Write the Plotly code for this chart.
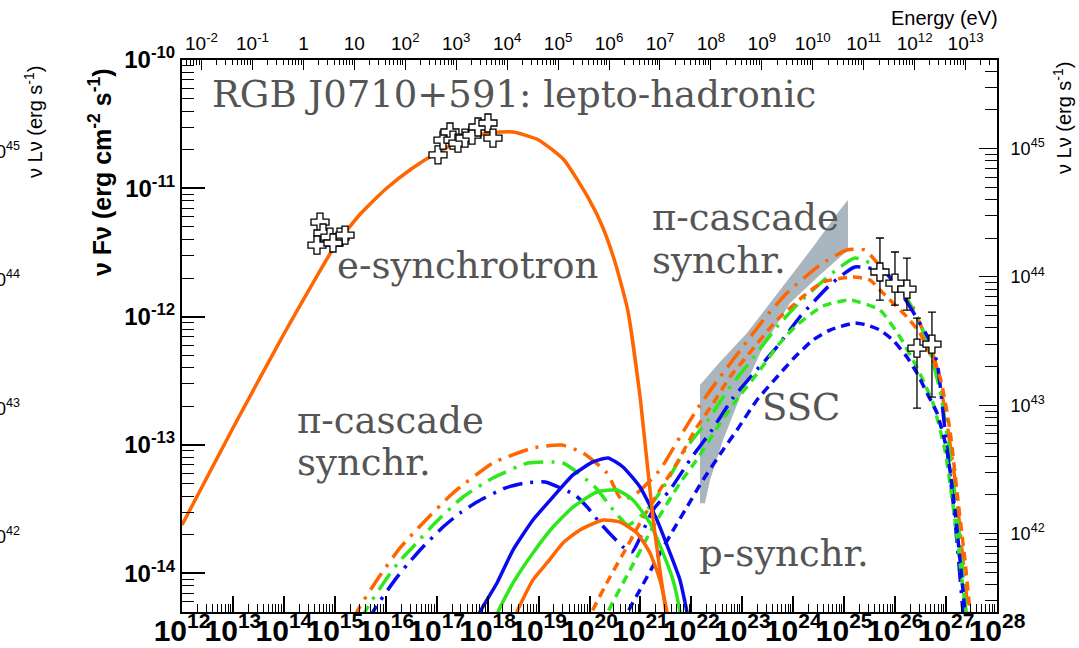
import numpy as np
import plotly.graph_objects as go

# ---------------- constants / axes ----------------
LOG_H_EV = np.log10(4.135667696e-15)   # Planck constant in eV s (top energy axis)
LUM_OFFSET = 55.69                      # log10(4 pi d_L^2) for right nuLnu axis

x_range_log = [12.0, 28.0]
y_range_log = [float(np.log10(5e-15)), -10.0]

x_tick_exp = list(range(12, 29))
y_tick_exp = [-14, -13, -12, -11, -10]
e_tick_exp = list(range(-2, 14))
l_tick_exp = [42, 43, 44, 45]

# ---------------- data (log10 nu [Hz], log10 nuFnu [erg cm-2 s-1]) ----------------
# e-synchrotron
esyn_lx = [12.0, 13.0, 14.0, 14.572, 15.0, 15.5, 16.0, 16.5, 17.0, 17.5, 18.0, 18.5, 19.0, 19.5,
           20.0, 20.25, 20.5, 20.75, 21.0, 21.25, 21.5, 21.55]
esyn_ly = [-13.623, -12.867, -12.135, -11.737, -11.449, -11.200, -11.005, -10.849, -10.725, -10.627,
           -10.569, -10.561, -10.623, -10.779, -11.091, -11.293, -11.574, -11.948, -12.649, -13.584,
           -14.301, -14.40]

# Fermi bow-tie
band_lx = [22.169, 22.561, 23.091, 23.739, 24.387, 24.917, 25.074, 25.074, 24.524, 23.936,
           23.406, 22.954, 22.620, 22.365, 22.267, 22.169]
band_ly = [-12.533, -12.354, -12.128, -11.793, -11.458, -11.169, -11.091, -11.481, -11.676, -11.894,
           -12.237, -12.627, -12.962, -13.274, -13.453, -13.453]

# optical / X-ray data points
lowdata_lx = [14.709, 14.768, 14.650, 14.905, 15.102, 15.200, 14.964,
              17.026, 17.124, 17.261, 17.320, 17.418, 17.556, 17.693, 17.811, 18.007, 18.105]
lowdata_ly = [-11.263, -11.348, -11.442, -11.380, -11.380, -11.364, -11.426,
              -10.740, -10.624, -10.561, -10.624, -10.647, -10.608, -10.585, -10.522, -10.491, -10.608]

# VHE gamma-ray data points with error bars
gam_lx = [25.702, 25.997, 26.232, 26.429, 26.723]
gam_ly = [-11.652, -11.738, -11.785, -12.245, -12.214]
gam_hi = [-11.387, -11.496, -11.543, -12.011, -11.964]
gam_lo = [-11.871, -11.910, -11.949, -12.712, -12.627]

# proton synchrotron (solid)
psyn_blue_lx = [17.78, 17.850, 18.184, 18.498, 18.890, 19.283, 19.676, 20.068, 20.363, 20.657, 20.991,
                21.325, 21.580, 21.776, 21.914, 21.96]
psyn_blue_ly = [-14.40, -14.301, -14.075, -13.818, -13.584, -13.405, -13.233, -13.132, -13.101, -13.171, -13.327,
                -13.584, -13.841, -14.051, -14.301, -14.40]
psyn_green_lx = [18.15, 18.203, 18.498, 18.890, 19.283, 19.676, 20.147, 20.539, 20.854, 21.187, 21.442,
                 21.639, 21.776, 21.81]
psyn_green_ly = [-14.40, -14.301, -14.075, -13.841, -13.639, -13.483, -13.366, -13.350, -13.428, -13.607, -13.841,
                 -14.051, -14.301, -14.40]
psyn_orange_lx = [18.52, 18.576, 18.890, 19.165, 19.479, 19.813, 20.265, 20.598, 20.932, 21.187, 21.383,
                  21.521, 21.56]
psyn_orange_ly = [-14.40, -14.301, -14.051, -13.919, -13.763, -13.662, -13.584, -13.600, -13.685, -13.841, -14.051,
                  -14.301, -14.40]

# pi-cascade synchrotron (dash-dot)
casc_orange_lx = [15.37, 15.435, 15.828, 16.280, 16.731, 17.320, 18.105, 18.890, 19.460, 19.872, 20.343, 20.637,
                  20.932, 21.383, 21.776, 22.129, 22.561, 22.993, 23.444, 23.876, 24.524, 25.054, 25.408,
                  25.702, 26.232, 26.585, 26.782, 26.978, 27.175, 27.312, 27.430, 27.45]
casc_orange_ly = [-14.40, -14.301, -14.051, -13.802, -13.607, -13.374, -13.140, -13.023, -13.000, -13.062, -13.218,
                  -13.428, -13.374, -13.194, -12.937, -12.711, -12.470, -12.244, -12.010, -11.815, -11.597, -11.480,
                  -11.480, -11.605, -11.831, -12.143, -12.337, -12.727, -13.272, -13.818, -14.301, -14.40]
casc_green_lx = [15.53, 15.592, 16.024, 16.240, 16.515, 16.967, 17.516, 18.105, 18.792, 19.479, 20.107, 20.500,
                 20.755, 21.128, 21.442, 21.913, 22.326, 22.757, 23.150, 23.680, 24.073, 24.720, 25.211,
                 25.702, 26.193, 26.585, 26.880, 27.116, 27.273, 27.391, 27.41]
casc_green_ly = [-14.40, -14.301, -14.036, -13.919, -13.802, -13.607, -13.405, -13.257, -13.140, -13.140, -13.327,
                 -13.522, -13.623, -13.506, -13.335, -13.015, -12.805, -12.548, -12.353, -12.080, -11.909, -11.675,
                 -11.543, -11.621, -11.831, -12.143, -12.571, -13.194, -13.740, -14.301, -14.40]
casc_blue_lx = [15.69, 15.750, 16.181, 16.417, 16.711, 17.124, 17.457, 17.791, 18.341, 18.733, 19.126, 19.715,
                19.970, 20.206, 20.657, 20.834, 21.246, 21.580, 22.012, 22.405, 22.817, 23.249, 23.680,
                24.132, 24.720, 25.211, 25.800, 26.232, 26.723, 26.841, 26.978, 27.175, 27.332, 27.35]
casc_blue_ly = [-14.40, -14.301, -14.051, -13.934, -13.802, -13.639, -13.530, -13.444, -13.335, -13.296, -13.288,
                -13.389, -13.490, -13.607, -13.794, -13.833, -13.506, -13.350, -13.093, -12.883, -12.633, -12.431,
                -12.236, -12.002, -11.753, -11.613, -11.652, -11.886, -12.221, -12.400, -12.883, -13.584,
                -14.301, -14.40]

# SSC (short dash)
ssc_orange_lx = [19.99, 20.049, 20.402, 20.736, 20.991, 21.383, 21.717, 22.071, 22.405, 22.757, 23.111, 23.680,
                 24.230, 24.583, 25.172, 25.506, 25.702, 26.232, 26.487, 26.880, 27.076, 27.233, 27.371,
                 27.469, 27.49]
ssc_orange_ly = [-14.40, -14.301, -14.028, -13.794, -13.607, -13.350, -13.140, -12.883, -12.688, -12.470, -12.298,
                 -12.026, -11.831, -11.730, -11.691, -11.714, -11.792, -12.002, -12.127, -12.470, -12.883,
                 -13.428, -13.896, -14.301, -14.40]
ssc_green_lx = [20.30, 20.363, 20.795, 21.246, 21.776, 22.129, 22.502, 22.855, 23.346, 23.739, 24.073, 24.583,
                25.113, 25.702, 26.095, 26.350, 26.546, 26.742, 26.978, 27.175, 27.312, 27.391, 27.41]
ssc_green_ly = [-14.40, -14.301, -13.974, -13.639, -13.296, -13.101, -12.867, -12.665, -12.415, -12.205, -12.065,
                -11.917, -11.870, -11.948, -12.158, -12.337, -12.493, -12.672, -13.039, -13.584, -14.051,
                -14.301, -14.40]
ssc_blue_lx = [20.70, 20.755, 20.991, 21.344, 21.678, 21.913, 22.228, 22.620, 22.895, 23.288, 23.680, 24.034,
               24.387, 24.720, 25.211, 25.447, 25.702, 25.957, 26.232, 26.429, 26.625, 26.821, 27.017,
               27.175, 27.312, 27.371, 27.39]
ssc_blue_ly = [-14.40, -14.301, -14.129, -13.872, -13.639, -13.483, -13.272, -13.039, -12.883, -12.649, -12.470,
               -12.314, -12.182, -12.104, -12.049, -12.065, -12.104, -12.182, -12.314, -12.439, -12.594,
               -12.750, -13.039, -13.506, -14.051, -14.301, -14.40]

# ---------------- styles ----------------
ORANGE = "#ff6600"
GREEN = "#2ee81c"
BLUE = "#0a0af0"
BAND = "#a9b5bf"
TEXTGRAY = "#555555"
DASHDOT = "20px,8px,3px,8px"
SHORTDASH = "9px,6px"
LW = 3.5


def pw(v):
    return (10.0 ** np.asarray(v)).tolist()


fig = go.Figure()

fig.add_trace(go.Scatter(x=pw(band_lx), y=pw(band_ly), mode="lines", fill="toself",
                         fillcolor=BAND, line=dict(width=0, color=BAND), hoverinfo="skip"))

curves = [
    (casc_orange_lx, casc_orange_ly, ORANGE, DASHDOT),
    (casc_green_lx, casc_green_ly, GREEN, DASHDOT),
    (casc_blue_lx, casc_blue_ly, BLUE, DASHDOT),
    (ssc_orange_lx, ssc_orange_ly, ORANGE, SHORTDASH),
    (ssc_green_lx, ssc_green_ly, GREEN, SHORTDASH),
    (ssc_blue_lx, ssc_blue_ly, BLUE, SHORTDASH),
    (psyn_orange_lx, psyn_orange_ly, ORANGE, "solid"),
    (psyn_green_lx, psyn_green_ly, GREEN, "solid"),
    (psyn_blue_lx, psyn_blue_ly, BLUE, "solid"),
    (esyn_lx, esyn_ly, ORANGE, "solid"),
]
for lx, ly, col, dash in curves:
    fig.add_trace(go.Scatter(x=pw(lx), y=pw(ly), mode="lines",
                             line=dict(color=col, width=LW, dash=dash, shape="spline", smoothing=0.5),
                             hoverinfo="skip"))

marker_style = dict(symbol="cross", size=15, color="white", line=dict(color="black", width=1.3))
fig.add_trace(go.Scatter(x=pw(lowdata_lx), y=pw(lowdata_ly), mode="markers", marker=marker_style))

gy = np.array(pw(gam_ly))
fig.add_trace(go.Scatter(
    x=pw(gam_lx), y=gy.tolist(), mode="markers", marker=marker_style,
    error_y=dict(type="data", symmetric=False,
                 array=(np.array(pw(gam_hi)) - gy).tolist(),
                 arrayminus=(gy - np.array(pw(gam_lo))).tolist(),
                 color="black", thickness=1.3, width=4)))

# dummy traces to activate the top energy axis and right luminosity axis
fig.add_trace(go.Scatter(x=pw([x_range_log[0] + LOG_H_EV, x_range_log[1] + LOG_H_EV]),
                         y=pw(y_range_log), xaxis="x2", yaxis="y", mode="markers",
                         marker=dict(opacity=0), hoverinfo="skip"))
fig.add_trace(go.Scatter(x=pw(x_range_log),
                         y=pw([y_range_log[0] + LUM_OFFSET, y_range_log[1] + LUM_OFFSET]),
                         xaxis="x", yaxis="y2", mode="markers",
                         marker=dict(opacity=0), hoverinfo="skip"))


def sup_label(e):
    return f"10<sup>{e}</sup>"


def energy_label(e):
    if e == 0:
        return "1"
    if e == 1:
        return "10"
    return f"10<sup>{e}</sup>"


FONT = "Liberation Sans"
axis_common = dict(type="log", showgrid=False, zeroline=False, showline=True, linecolor="black",
                   linewidth=2, ticks="inside", tickcolor="black", tickmode="array",
                   automargin=False, tickangle=0)

fig.update_layout(
    width=1079, height=648, autosize=False,
    margin=dict(l=182, r=82, t=60, b=36, pad=0),
    paper_bgcolor="white", plot_bgcolor="white", showlegend=False,
    xaxis=dict(**axis_common, range=x_range_log,
               tickvals=[10.0 ** e for e in x_tick_exp], ticktext=[sup_label(e) for e in x_tick_exp],
               ticklen=16, tickwidth=1.5, ticklabelstandoff=-9,
               tickfont=dict(family=FONT, size=30, color="black", weight="bold"),
               minor=dict(ticks="inside", ticklen=8, tickwidth=1, tickcolor="black", dtick="D1", showgrid=False)),
    yaxis=dict(**axis_common, range=y_range_log,
               tickvals=[10.0 ** e for e in y_tick_exp], ticktext=[sup_label(e) for e in y_tick_exp],
               ticklen=23, tickwidth=1.5,
               tickfont=dict(family=FONT, size=24, color="black", weight="bold"),
               minor=dict(ticks="inside", ticklen=12, tickwidth=1, tickcolor="black", dtick="D1", showgrid=False)),
    xaxis2=dict(**axis_common, overlaying="x", side="top", anchor="y",
                range=[x_range_log[0] + LOG_H_EV, x_range_log[1] + LOG_H_EV],
                tickvals=[10.0 ** e for e in e_tick_exp], ticktext=[energy_label(e) for e in e_tick_exp],
                ticklen=10, tickwidth=1.2,
                tickfont=dict(family=FONT, size=19, color="black"),
                minor=dict(ticks="inside", ticklen=5, tickwidth=1, tickcolor="black", dtick="D1", showgrid=False)),
    yaxis2=dict(**axis_common, overlaying="y", side="right", anchor="x",
                range=[y_range_log[0] + LUM_OFFSET, y_range_log[1] + LUM_OFFSET],
                tickvals=[10.0 ** e for e in l_tick_exp], ticktext=[sup_label(e) for e in l_tick_exp],
                ticklen=18, tickwidth=1.2, ticklabelstandoff=8,
                tickfont=dict(family=FONT, size=18, color="black"),
                minor=dict(ticks="inside", ticklen=12, tickwidth=1, tickcolor="black", dtick="D1", showgrid=False)),
)


def px(x):
    return (x - 182) / 815.0


def py(y):
    return (612 - y) / 552.0


SERIF = "DejaVu Serif"
annos = [
    dict(text="RGB J0710+591: lepto-hadronic", x=px(210), y=py(95), size=37),
    dict(text="e-synchrotron", x=px(335), y=py(265), size=37),
    dict(text="π-cascade", x=px(295), y=py(420), size=37),
    dict(text="synchr.", x=px(295), y=py(462), size=37),
    dict(text="π-cascade", x=px(650), y=py(217), size=37),
    dict(text="synchr.", x=px(650), y=py(260), size=37),
    dict(text="SSC", x=px(760), y=py(407), size=37),
    dict(text="p-synchr.", x=px(697), y=py(553), size=37),
]
for a in annos:
    fig.add_annotation(text=a["text"], x=a["x"], y=a["y"], xref="paper", yref="paper",
                       xanchor="left", yanchor="middle", align="left", showarrow=False,
                       font=dict(family=SERIF, size=a["size"], color=TEXTGRAY))

# axis titles
fig.add_annotation(text="ν Fν (erg cm<sup>-2</sup> s<sup>-1</sup>)", x=px(100), y=py(172),
                   xref="paper", yref="paper", textangle=-90, showarrow=False,
                   xanchor="center", yanchor="middle",
                   font=dict(family=FONT, size=25, color="black", weight="bold"))
fig.add_annotation(text="ν Lν (erg s<sup>-1</sup>)", x=px(1062), y=py(118),
                   xref="paper", yref="paper", textangle=-90, showarrow=False,
                   xanchor="center", yanchor="middle",
                   font=dict(family=FONT, size=20, color="black"))
fig.add_annotation(text="Energy (eV)", x=px(1000), y=py(18), xref="paper", yref="paper",
                   xanchor="right", yanchor="middle", showarrow=False,
                   font=dict(family=FONT, size=20, color="black"))

# remnants of the neighbouring panel at the left edge
fig.add_annotation(text="ν Lν (erg s<sup>-1</sup>)", x=px(33), y=py(122),
                   xref="paper", yref="paper", textangle=-90, showarrow=False,
                   xanchor="center", yanchor="middle",
                   font=dict(family=FONT, size=20, color="black"))
for e in l_tick_exp:
    yy = 60 + (-10 - (e - LUM_OFFSET)) * 128.35
    fig.add_annotation(text=sup_label(e), x=px(22), y=py(yy + 2), xref="paper", yref="paper",
                       xanchor="right", yanchor="middle", showarrow=False,
                       font=dict(family=FONT, size=18, color="black"))

fig.write_html("out.html")
